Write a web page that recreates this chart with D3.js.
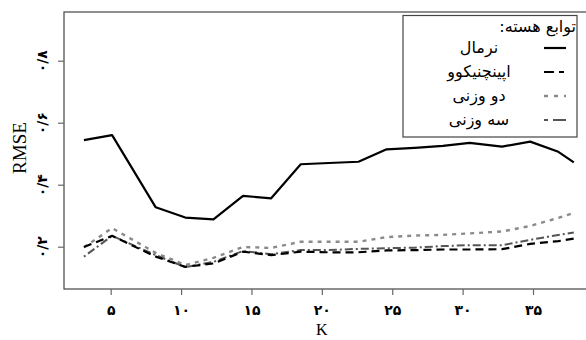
<!DOCTYPE html>
<html><head><meta charset="utf-8">
<script src="https://cdn.jsdelivr.net/npm/d3@7"></script>
<style>
body{margin:0;background:#fff;}
text{font-family:"Liberation Serif","DejaVu Serif","DejaVu Sans",serif;}
</style></head>
<body><svg id="c" width="586" height="340"></svg>
<script>
// ---- data ----
const kValues = [3.1,5.1,8.2,10.3,12.3,14.4,16.4,18.5,20.5,22.6,24.6,26.6,28.6,30.5,32.8,34.8,36.8,37.9];
const normal      = [0.544,0.560,0.327,0.294,0.288,0.364,0.356,0.466,0.470,0.474,0.514,0.519,0.525,0.535,0.523,0.539,0.506,0.472];
const epanechnikov= [0.199,0.235,0.168,0.135,0.146,0.184,0.173,0.184,0.182,0.182,0.188,0.189,0.191,0.191,0.192,0.209,0.218,0.226];
const biweight    = [0.198,0.260,0.180,0.141,0.164,0.199,0.196,0.216,0.216,0.216,0.231,0.236,0.238,0.243,0.249,0.267,0.293,0.309];
const triweight   = [0.168,0.235,0.173,0.134,0.151,0.186,0.176,0.189,0.189,0.193,0.195,0.197,0.202,0.205,0.205,0.222,0.238,0.246];
const xTicks = [5,10,15,20,25,30,35];
const xTickLabels = ["۵","۱۰","۱۵","۲۰","۲۵","۳۰","۳۵"];
const yTicks = [0.2,0.4,0.6,0.8];
const yTickLabels = ["۰/۲","۰/۴","۰/۶","۰/۸"];
const seriesNames = ["نرمال","اپینچنیکوو","دو وزنی","سه وزنی"];
const legendTitle = "توابع هسته:";
const xTitle = "K", yTitle = "RMSE";

// ---- layout ----
const svg = d3.select("#c");
const box = {l:64, t:12, r:592, b:289};
const x = d3.scaleLinear().domain([0,40]).range([40.3,603.4]);
const y = d3.scaleLinear().domain([0,1]).range([308.7,-1.3]);
const faFont = "'DejaVu Sans',sans-serif";

const series = [
  {name:seriesNames[0], v:normal, color:"#000", dash:null, ldash:null, w:2.2},
  {name:seriesNames[1], v:epanechnikov, color:"#000", dash:"8,5", ldash:"10,5,5,10", w:2.2},
  {name:seriesNames[2], v:biweight, color:"#8a8a8a", dash:"4,5", ldash:"4,6", w:2.4},
  {name:seriesNames[3], v:triweight, color:"#555", dash:"2,3,8,3", ldash:"4,5,13", w:2}
];

const line = d3.line().x((d,i)=>x(kValues[i])).y(d=>y(d));
[2,3,1,0].forEach(si=>{
  const s = series[si];
  svg.append("path").datum(s.v).attr("d",line)
    .attr("fill","none").attr("stroke",s.color).attr("stroke-width",s.w)
    .attr("stroke-dasharray",s.dash).attr("stroke-linejoin","round");
});

// box
svg.append("rect").attr("x",box.l).attr("y",box.t).attr("width",box.r-box.l).attr("height",box.b-box.t)
  .attr("fill","none").attr("stroke","#444").attr("stroke-width",1.2);

// x axis
const xa = svg.append("g").attr("transform",`translate(0,${box.b})`)
  .call(d3.axisBottom(x).tickValues(xTicks).tickSize(6).tickFormat((d,i)=>xTickLabels[i]));
xa.select(".domain").remove();
xa.selectAll(".tick line").attr("stroke","#666").attr("stroke-width",1.2);
xa.selectAll(".tick text").attr("y",16).attr("fill","#000")
  .style("font-family",faFont).attr("font-weight","bold").attr("font-size",14);

// y axis
const ya = svg.append("g").attr("transform",`translate(${box.l},0)`)
  .call(d3.axisLeft(y).tickValues(yTicks).tickSize(6).tickFormat((d,i)=>yTickLabels[i]));
ya.select(".domain").remove();
ya.selectAll(".tick line").attr("stroke","#666").attr("stroke-width",1.2);
ya.selectAll(".tick text").attr("x",0).attr("text-anchor","middle")
  .attr("transform","translate(-22,0) rotate(-90)").attr("dy","0.35em")
  .style("font-family",faFont).attr("font-weight","bold").attr("font-size",14).attr("fill","#000");

svg.append("text").attr("x",x(20)).attr("y",335)
  .attr("text-anchor","middle").attr("font-size",16).text(xTitle);
svg.append("text").attr("transform","translate(26,148) rotate(-90)").attr("text-anchor","middle")
  .attr("font-size",19).text(yTitle);

// legend
const lg = svg.append("g");
lg.append("rect").attr("x",403).attr("y",15.5).attr("width",174).attr("height",121.5)
  .attr("fill","#fff").attr("stroke","#444").attr("stroke-width",1.2);
lg.append("text").attr("x",576).attr("y",32).attr("direction","rtl").attr("text-anchor","start")
  .style("font-family",faFont).attr("font-size",16).text(legendTitle);
const ly = [48,72,96,120];
series.forEach((s,i)=>{
  lg.append("line").attr("x1",544).attr("x2",566).attr("y1",ly[i]).attr("y2",ly[i])
    .attr("stroke",s.color).attr("stroke-width",s.w).attr("stroke-dasharray",s.ldash);
  lg.append("text").attr("x",479).attr("y",ly[i]).attr("dy","0.3em").attr("text-anchor","middle")
    .attr("direction","rtl")
    .style("font-family",faFont).attr("font-size",16).text(s.name);
});
</script></body></html>
